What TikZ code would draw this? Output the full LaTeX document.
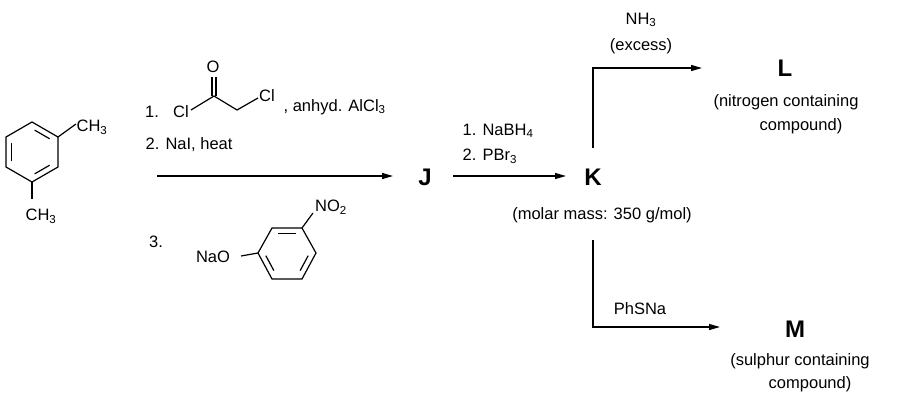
\documentclass[tikz,border=0pt]{standalone}
\usepackage{fontspec}
\setmainfont{Liberation Sans}
\usetikzlibrary{arrows.meta,calc}
\newcommand{\innerbond}[3]{\draw[bd,shorten <=3pt,shorten >=3pt] ($(#1)!0.78!(#2)$) -- ($(#1)!0.78!(#3)$);}
\newcommand{\sbs}[1]{\textsubscript{#1}}
\begin{document}
\begin{tikzpicture}[x=1pt,y=-1pt,line width=1.3pt,
 t/.style={inner sep=0pt,font=\fontsize{16.5}{20}\selectfont},
 big/.style={inner sep=0pt,font=\fontsize{24}{26}\selectfont\bfseries},
 arr/.style={-{Triangle[length=11pt,width=6pt]}},
 bd/.style={line width=1.2pt}]
\useasboundingbox (0,0) rectangle (900,415);
% m-xylene
\coordinate (ca) at (32,152);
\coordinate (a1) at (32,122); \coordinate (a2) at (58,137); \coordinate (a3) at (58,167);
\coordinate (a4) at (32,182); \coordinate (a5) at (6,167); \coordinate (a6) at (6,137);
\draw[bd] (a1)--(a2)--(a3)--(a4)--(a5)--(a6)--cycle;
\innerbond{ca}{a1}{a2} \innerbond{ca}{a3}{a4} \innerbond{ca}{a5}{a6}
\node[t,anchor=west] (me1) at (76,127) {CH\sbs{3}};
\node[t] (me2) at (41,216) {CH\sbs{3}};
\draw[bd] (a2)--(76,124); \draw[bd] (a4)--(32,199);
% reagent 1
\node[t] (n1) at (152,112) {1.};
\node[t] (cl1) at (181,112) {Cl};
\coordinate (c1) at (214,96); \coordinate (c2) at (237,110);
\node[t] (o1) at (213,67) {O};
\node[t] (cl2) at (267,96) {Cl};
\draw[bd] (191,110)--(c1)--(c2)--(258,98);
\draw[bd] (212,96)--(212,77); \draw[bd] (216,96)--(216,77);
\node[t,anchor=west] (al) at (283,107) {, anhyd. AlCl\sbs{3}};
\node[t,anchor=west] (r2) at (145,145) {2. NaI, heat};
\node[t] (n3) at (156,242) {3.};
% nitrophenoxide
\coordinate (cb) at (287,253);
\coordinate (b1) at (272,228); \coordinate (b2) at (302,228); \coordinate (b3) at (316,253);
\coordinate (b4) at (302,279); \coordinate (b5) at (272,279); \coordinate (b6) at (258,253);
\draw[bd] (b1)--(b2)--(b3)--(b4)--(b5)--(b6)--cycle;
\innerbond{cb}{b1}{b2} \innerbond{cb}{b3}{b4} \innerbond{cb}{b5}{b6}
\node[t] (nao) at (213,257) {NaO};
\node[t] (no2) at (331,207) {NO\sbs{2}};
\draw[bd] (b6)--(241,256); \draw[bd] (b2)--(313,213);
% arrows
\node[big] (J) at (425,177) {J};
\node[big] (K) at (593,177) {K};
\coordinate (s1) at (157,176); \coordinate (s2) at (393,176);
\draw[arr] (s1) -- (s2);
\coordinate (t1) at (453,176); \coordinate (t2) at (566,176);
\draw[arr] (t1) -- (t2);
\node[t,anchor=west] (k1) at (462,131) {1. NaBH\sbs{4}};
\node[t,anchor=west] (k2) at (462,156) {2. PBr\sbs{3}};
\node[t] (mm) at (602,215) {(molar mass: 350 g/mol)};
% L branch
\coordinate (u0) at (593,148); \coordinate (u1) at (593,68); \coordinate (u2) at (702,68);
\draw[arr] (u0) -- (u1) -- (u2);
\node[t] (nh3) at (641,20) {NH\sbs{3}};
\node[t] (ex) at (641,46) {(excess)};
\node[big] (L) at (785,68) {L};
\node[t] (l1) at (786,102) {(nitrogen containing};
\node[t] (l2) at (801,126) {compound)};
% M branch
\coordinate (d0) at (593,240); \coordinate (d1) at (593,327); \coordinate (d2) at (720,327);
\draw[arr] (d0) -- (d1) -- (d2);
\node[t] (ph) at (640,309) {PhSNa};
\node[big] (M) at (795,329) {M};
\node[t] (m1) at (800,361) {(sulphur containing};
\node[t] (m2) at (810,384) {compound)};
\end{tikzpicture}
\end{document}
